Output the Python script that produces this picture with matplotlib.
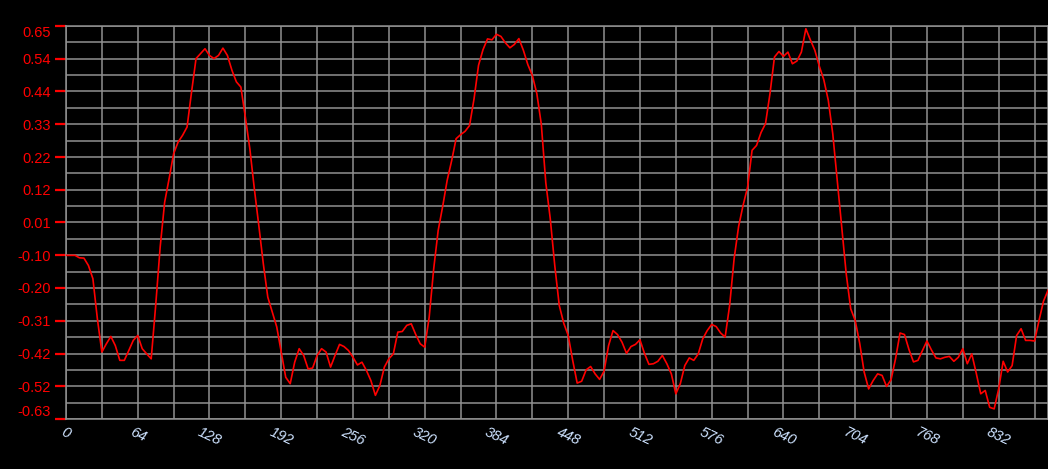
import numpy as np
import matplotlib
matplotlib.use("Agg")
import matplotlib.pyplot as plt
from matplotlib.ticker import MultipleLocator, FixedLocator

# ---- data (sample index step 4, value) ----
step = 4
values = [
    -0.097, -0.097, -0.097, -0.105, -0.106, -0.130, -0.173, -0.304, -0.412, -0.385,
    -0.361, -0.391, -0.439, -0.439, -0.407, -0.374, -0.358, -0.401, -0.418, -0.434,
    -0.260, -0.070, 0.076, 0.153, 0.234, 0.272, 0.294, 0.321, 0.435, 0.544,
    0.560, 0.576, 0.554, 0.544, 0.554, 0.578, 0.554, 0.506, 0.468, 0.451,
    0.353, 0.250, 0.120, 0.000, -0.124, -0.233, -0.282, -0.330, -0.412, -0.494,
    -0.515, -0.445, -0.401, -0.423, -0.467, -0.464, -0.423, -0.401, -0.412, -0.461,
    -0.423, -0.387, -0.394, -0.407, -0.429, -0.454, -0.445, -0.472, -0.505, -0.553,
    -0.521, -0.461, -0.434, -0.418, -0.347, -0.345, -0.325, -0.320, -0.355, -0.385,
    -0.396, -0.298, -0.141, -0.016, 0.062, 0.147, 0.211, 0.283, 0.296, 0.307,
    0.326, 0.413, 0.522, 0.573, 0.608, 0.605, 0.623, 0.616, 0.595, 0.579,
    0.590, 0.609, 0.571, 0.524, 0.489, 0.430, 0.330, 0.140, 0.022, -0.130,
    -0.260, -0.318, -0.358, -0.439, -0.513, -0.507, -0.470, -0.459, -0.483, -0.501,
    -0.474, -0.391, -0.342, -0.355, -0.380, -0.416, -0.394, -0.387, -0.372, -0.416,
    -0.452, -0.450, -0.442, -0.423, -0.450, -0.483, -0.548, -0.515, -0.456, -0.431,
    -0.439, -0.418, -0.369, -0.342, -0.322, -0.329, -0.350, -0.363, -0.260, -0.108,
    -0.003, 0.066, 0.125, 0.245, 0.261, 0.303, 0.332, 0.430, 0.549, 0.567,
    0.551, 0.565, 0.527, 0.536, 0.565, 0.641, 0.605, 0.571, 0.519, 0.475,
    0.408, 0.299, 0.147, -0.005, -0.157, -0.271, -0.309, -0.383, -0.477, -0.532,
    -0.505, -0.483, -0.488, -0.524, -0.502, -0.434, -0.350, -0.355, -0.404, -0.444,
    -0.439, -0.407, -0.376, -0.405, -0.431, -0.434, -0.429, -0.426, -0.442, -0.429,
    -0.401, -0.450, -0.418, -0.481, -0.548, -0.537, -0.592, -0.597, -0.532, -0.442,
    -0.477, -0.456, -0.358, -0.336, -0.374, -0.374, -0.376, -0.309, -0.246, -0.211,
]
x_values = np.arange(len(values)) * step

y_tick_values = [-0.63, -0.5233, -0.4167, -0.31, -0.2033, -0.0967, 0.01,
                 0.1167, 0.2233, 0.33, 0.4367, 0.5433, 0.65]
y_tick_labels = ["-0.63", "-0.52", "-0.42", "-0.31", "-0.20", "-0.10", "0.01",
                 "0.12", "0.22", "0.33", "0.44", "0.54", "0.65"]
x_tick_values = [0, 64, 128, 192, 256, 320, 384, 448, 512, 576, 640, 704, 768, 832]
x_tick_labels = [str(v) for v in x_tick_values]

# ---- figure ----
W, H = 1048, 469
fig = plt.figure(figsize=(W / 100, H / 100), dpi=100, facecolor="black")
left, right, top, bottom = 66, 1048, 26, 419
ax = fig.add_axes([left / W, 1 - bottom / H, (right - left) / W, (bottom - top) / H])
ax.set_facecolor("black")

grid_col = "#909090"
ax.set_xlim(0, 876)
ax.set_ylim(-0.63, 0.65)

ax.xaxis.set_major_locator(FixedLocator(x_tick_values))
ax.xaxis.set_minor_locator(MultipleLocator(32))
ax.yaxis.set_major_locator(FixedLocator(y_tick_values))
minor_y = [(a + b) / 2 for a, b in zip(y_tick_values[:-1], y_tick_values[1:])]
ax.yaxis.set_minor_locator(FixedLocator(minor_y))

ax.grid(True, which="both", color=grid_col, linewidth=1.1)
ax.set_axisbelow(True)
for s in ax.spines.values():
    s.set_color(grid_col)
    s.set_linewidth(1.1)

ax.plot(x_values, values, color="#ff0000", linewidth=1.2, zorder=3)

ax.set_yticklabels(y_tick_labels, fontfamily="Liberation Sans", fontsize=10.5, color="#ff0000")
ax.tick_params(axis="y", which="major", length=8, width=1.6, color="#ff0000", pad=3)
ax.tick_params(axis="y", which="minor", length=0)
labels = ax.get_yticklabels()
labels[0].set_va("bottom")
labels[-1].set_va("top")

ax.set_xticklabels(x_tick_labels, fontfamily="Liberation Sans", fontsize=10.5,
                   style="italic", color="#cde2ff", rotation=-25, ha="center",
                   va="top", rotation_mode="default")
ax.tick_params(axis="x", which="both", length=0, pad=4)

fig.savefig("out.png", dpi=100, facecolor="black")
